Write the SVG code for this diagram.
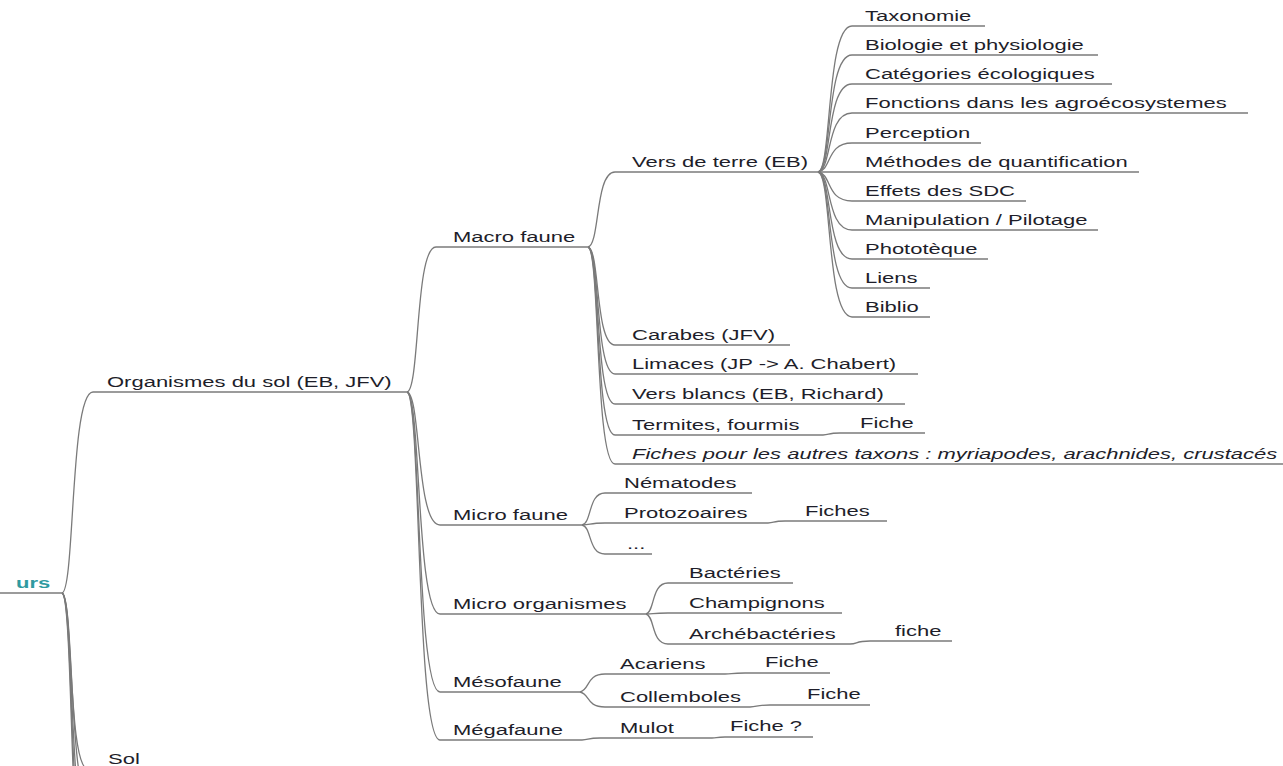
<svg xmlns="http://www.w3.org/2000/svg" width="1283" height="766" viewBox="0 0 1283 766">
<style>
text{font-family:"Liberation Sans",Arial,sans-serif;font-size:15.5px;fill:#1e1e2a}
.it{font-style:italic}
.root{font-weight:bold;fill:#2f9aa0}
.u{stroke:#7a7a7a;stroke-width:1.3;fill:none}
.c{stroke:#7a7a7a;stroke-width:1.3;fill:none}
</style>
<rect width="1283" height="766" fill="#ffffff"/>
<g id="connectors">
<path class="c" d="M62,593 C75,590 70,392 93,392"/>
<path class="c" d="M62,593 C73,596 68,769 88,769"/>
<path class="c" d="M62,593 C74,596 69,800 90,800"/>
<path class="c" d="M62,593 C74,596 69,840 90,840"/>
<path class="c" d="M62,593 C74,596 69,880 90,880"/>
<path class="c" d="M62,593 C74,596 69,920 90,920"/>
<path class="c" d="M407,392 C420,390 415,247 436,247"/>
<path class="c" d="M407,392 C421,394 416,525 440,525"/>
<path class="c" d="M407,392 C421,394 416,614 440,614"/>
<path class="c" d="M407,392 C421,394 416,692 440,692"/>
<path class="c" d="M407,392 C421,394 416,740 440,740"/>
<path class="c" d="M588,247 C600,245 595,172 615,172"/>
<path class="c" d="M588,247 C600,249 595,345 615,345"/>
<path class="c" d="M588,247 C600,249 595,374 615,374"/>
<path class="c" d="M588,247 C600,249 595,404 615,404"/>
<path class="c" d="M588,247 C600,249 595,435 615,435"/>
<path class="c" d="M588,247 C600,249 595,464 615,464"/>
<path class="c" d="M818,172 C832,170 826,26 852,26"/>
<path class="c" d="M818,172 C832,170 826,55 852,55"/>
<path class="c" d="M818,172 C832,170 826,84 852,84"/>
<path class="c" d="M818,172 C832,170 826,113 852,113"/>
<path class="c" d="M818,172 C832,170 826,143 852,143"/>
<path class="c" d="M818,172 L852,172"/>
<path class="c" d="M818,172 C832,174 826,201 852,201"/>
<path class="c" d="M818,172 C832,174 826,230 852,230"/>
<path class="c" d="M818,172 C832,174 826,259 852,259"/>
<path class="c" d="M818,172 C832,174 826,288 852,288"/>
<path class="c" d="M818,172 C832,174 826,317 852,317"/>
<path class="c" d="M823,435 C830,435 827,433 840,433"/>
<path class="c" d="M582,525 C592,523 588,493 605,493"/>
<path class="c" d="M582,525 C592,525 588,523 605,523"/>
<path class="c" d="M582,525 C592,527 588,554 605,554"/>
<path class="c" d="M768,523 C775,523 772,521 785,521"/>
<path class="c" d="M646,614 C655,612 651,583 668,583"/>
<path class="c" d="M646,614 C655,614 651,613 668,613"/>
<path class="c" d="M646,614 C655,616 651,644 668,644"/>
<path class="c" d="M850,644 C858,644 855,641 870,641"/>
<path class="c" d="M580,692 C590,690 586,674 605,674"/>
<path class="c" d="M580,692 C590,694 586,707 605,707"/>
<path class="c" d="M725,674 C733,674 730,673 745,673"/>
<path class="c" d="M750,707 C758,707 755,705 770,705"/>
<path class="c" d="M582,740 C589,740 587,738 600,738"/>
<path class="c" d="M712,738 C717,738 716,737 725,737"/>
</g>
<g id="n-root"><line class="u" x1="0" y1="593" x2="62" y2="593"/><text class="root" transform="translate(16,588) scale(1.42,1)">urs</text></g>
<g id="n-sol"><text transform="translate(108,764) scale(1.42,1)">Sol</text></g>
<g id="n-organismes"><line class="u" x1="93" y1="392" x2="407" y2="392"/><text transform="translate(107,387) scale(1.42,1)">Organismes du sol (EB, JFV)</text></g>
<g id="n-macro"><line class="u" x1="436" y1="247" x2="588" y2="247"/><text transform="translate(453,242) scale(1.42,1)">Macro faune</text></g>
<g id="n-vers"><line class="u" x1="615" y1="172" x2="818" y2="172"/><text transform="translate(632,167) scale(1.42,1)">Vers de terre (EB)</text></g>
<g id="n-taxo"><line class="u" x1="852" y1="26" x2="985" y2="26"/><text transform="translate(865,21) scale(1.42,1)">Taxonomie</text></g>
<g id="n-bio"><line class="u" x1="852" y1="55" x2="1098" y2="55"/><text transform="translate(865,50) scale(1.42,1)">Biologie et physiologie</text></g>
<g id="n-cat"><line class="u" x1="852" y1="84" x2="1112" y2="84"/><text transform="translate(865,79) scale(1.42,1)">Catégories écologiques</text></g>
<g id="n-fonc"><line class="u" x1="852" y1="113" x2="1248" y2="113"/><text transform="translate(865,108) scale(1.42,1)">Fonctions dans les agroécosystemes</text></g>
<g id="n-perc"><line class="u" x1="852" y1="143" x2="981" y2="143"/><text transform="translate(865,138) scale(1.42,1)">Perception</text></g>
<g id="n-meth"><line class="u" x1="852" y1="172" x2="1139" y2="172"/><text transform="translate(865,167) scale(1.42,1)">Méthodes de quantification</text></g>
<g id="n-eff"><line class="u" x1="852" y1="201" x2="1026" y2="201"/><text transform="translate(865,196) scale(1.42,1)">Effets des SDC</text></g>
<g id="n-manip"><line class="u" x1="852" y1="230" x2="1098" y2="230"/><text transform="translate(865,225) scale(1.42,1)">Manipulation / Pilotage</text></g>
<g id="n-photo"><line class="u" x1="852" y1="259" x2="988" y2="259"/><text transform="translate(865,254) scale(1.42,1)">Phototèque</text></g>
<g id="n-liens"><line class="u" x1="852" y1="288" x2="930" y2="288"/><text transform="translate(865,283) scale(1.42,1)">Liens</text></g>
<g id="n-biblio"><line class="u" x1="852" y1="317" x2="930" y2="317"/><text transform="translate(865,312) scale(1.42,1)">Biblio</text></g>
<g id="n-carabes"><line class="u" x1="615" y1="345" x2="790" y2="345"/><text transform="translate(632,340) scale(1.42,1)">Carabes (JFV)</text></g>
<g id="n-limaces"><line class="u" x1="615" y1="374" x2="918" y2="374"/><text transform="translate(632,369) scale(1.42,1)">Limaces (JP -&gt; A. Chabert)</text></g>
<g id="n-versblancs"><line class="u" x1="615" y1="404" x2="905" y2="404"/><text transform="translate(632,399) scale(1.42,1)">Vers blancs (EB, Richard)</text></g>
<g id="n-termites"><line class="u" x1="615" y1="435" x2="823" y2="435"/><text transform="translate(632,430) scale(1.42,1)">Termites, fourmis</text></g>
<g id="n-termites-fiche"><line class="u" x1="840" y1="433" x2="925" y2="433"/><text transform="translate(860,428) scale(1.42,1)">Fiche</text></g>
<g id="n-autres"><line class="u" x1="615" y1="464" x2="1283" y2="464"/><text class="it" transform="translate(632,459) scale(1.42,1)">Fiches pour les autres taxons : myriapodes, arachnides, crustacés</text></g>
<g id="n-microfaune"><line class="u" x1="440" y1="525" x2="582" y2="525"/><text transform="translate(453,520) scale(1.42,1)">Micro faune</text></g>
<g id="n-nema"><line class="u" x1="605" y1="493" x2="752" y2="493"/><text transform="translate(624,488) scale(1.42,1)">Nématodes</text></g>
<g id="n-proto"><line class="u" x1="605" y1="523" x2="768" y2="523"/><text transform="translate(624,518) scale(1.42,1)">Protozoaires</text></g>
<g id="n-proto-fiches"><line class="u" x1="785" y1="521" x2="887" y2="521"/><text transform="translate(805,516) scale(1.42,1)">Fiches</text></g>
<g id="n-etc"><line class="u" x1="605" y1="554" x2="652" y2="554"/><text transform="translate(627,549) scale(1.42,1)">...</text></g>
<g id="n-microorg"><line class="u" x1="440" y1="614" x2="646" y2="614"/><text transform="translate(453,609) scale(1.42,1)">Micro organismes</text></g>
<g id="n-bact"><line class="u" x1="668" y1="583" x2="793" y2="583"/><text transform="translate(689,578) scale(1.42,1)">Bactéries</text></g>
<g id="n-champ"><line class="u" x1="668" y1="613" x2="842" y2="613"/><text transform="translate(689,608) scale(1.42,1)">Champignons</text></g>
<g id="n-archeo"><line class="u" x1="668" y1="644" x2="850" y2="644"/><text transform="translate(689,639) scale(1.42,1)">Archébactéries</text></g>
<g id="n-archeo-fiche"><line class="u" x1="870" y1="641" x2="952" y2="641"/><text transform="translate(895,636) scale(1.42,1)">fiche</text></g>
<g id="n-meso"><line class="u" x1="440" y1="692" x2="580" y2="692"/><text transform="translate(453,687) scale(1.42,1)">Mésofaune</text></g>
<g id="n-acar"><line class="u" x1="605" y1="674" x2="725" y2="674"/><text transform="translate(620,669) scale(1.42,1)">Acariens</text></g>
<g id="n-acar-fiche"><line class="u" x1="745" y1="673" x2="830" y2="673"/><text transform="translate(765,667) scale(1.42,1)">Fiche</text></g>
<g id="n-coll"><line class="u" x1="605" y1="707" x2="750" y2="707"/><text transform="translate(620,702) scale(1.42,1)">Collemboles</text></g>
<g id="n-coll-fiche"><line class="u" x1="770" y1="705" x2="870" y2="705"/><text transform="translate(807,699) scale(1.42,1)">Fiche</text></g>
<g id="n-mega"><line class="u" x1="440" y1="740" x2="582" y2="740"/><text transform="translate(453,735) scale(1.42,1)">Mégafaune</text></g>
<g id="n-mulot"><line class="u" x1="600" y1="738" x2="712" y2="738"/><text transform="translate(620,733) scale(1.42,1)">Mulot</text></g>
<g id="n-mulot-fiche"><line class="u" x1="725" y1="737" x2="813" y2="737"/><text transform="translate(730,731) scale(1.42,1)">Fiche ?</text></g>
</svg>
